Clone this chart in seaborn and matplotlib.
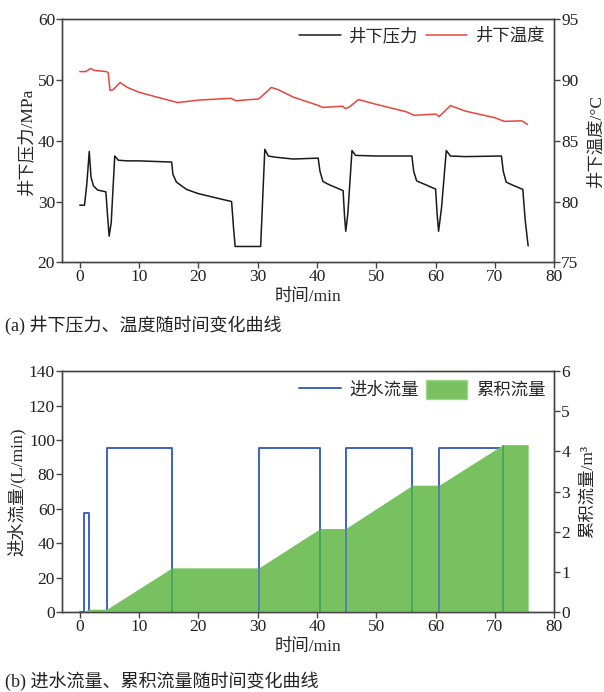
import matplotlib
matplotlib.use("Agg")
import matplotlib.pyplot as plt
import matplotlib.patches as mpatches
import seaborn as sns

# (a) downhole pressure, MPa
t_press = [0, 0.8, 1.2, 1.6, 1.9, 2.3, 3.0, 4.4, 4.7, 4.95, 5.3, 5.9, 6.5, 8, 10,
           15.5, 15.7, 16.3, 18, 20, 23, 25.6, 25.9, 26.2, 30.5, 31.2, 31.8, 33,
           36, 40.2, 40.5, 41.0, 42, 44.4, 44.65, 44.85, 45.2, 45.9, 46.5, 50,
           56.0, 56.3, 56.8, 58, 60.0, 60.25, 60.5, 61.0, 61.8, 62.5, 65, 71.1,
           71.4, 71.9, 73, 74.7, 75.1, 75.6]
pressure = [29.4, 29.4, 33.0, 38.25, 34.0, 32.6, 31.9, 31.6, 27.5, 24.3, 26.5,
            37.5, 36.8, 36.7, 36.7, 36.5, 34.5, 33.2, 32.0, 31.3, 30.6, 30.0,
            26.0, 22.6, 22.6, 38.6, 37.5, 37.3, 37.0, 37.15, 35.0, 33.3, 32.8,
            31.8, 27.5, 25.1, 28.0, 38.4, 37.6, 37.5, 37.5, 35.0, 33.4, 32.9,
            32.05, 28.0, 25.1, 29.0, 38.4, 37.5, 37.4, 37.5, 35.0, 33.2, 32.7,
            32.0, 27.0, 22.7]

# (a) downhole temperature, °C
t_temp = [0, 1.0, 1.8, 2.5, 4.5, 4.8, 5.1, 5.6, 6.8, 8, 10, 13, 16.5, 20, 25.5,
          26.3, 30.2, 32.3, 33.5, 36, 40.0, 41.0, 44.3, 44.8, 45.5, 47.0, 50, 55,
          56.4, 60, 60.6, 62.5, 65, 70, 71.6, 74.5, 75.5]
temperature = [90.7, 90.7, 90.95, 90.8, 90.7, 90.6, 89.15, 89.2, 89.8, 89.4,
               89.0, 88.6, 88.15, 88.35, 88.5, 88.3, 88.45, 89.4, 89.2, 88.6,
               87.95, 87.75, 87.85, 87.65, 87.8, 88.4, 88.0, 87.4, 87.1, 87.2,
               87.0, 87.9, 87.45, 86.9, 86.6, 86.65, 86.35]

# (b) inflow rate, L/min
t_flow = [0, 0.7, 0.7, 1.6, 1.6, 4.55, 4.55, 15.55, 15.55, 30.2, 30.2, 40.55,
          40.55, 44.85, 44.85, 56.1, 56.1, 60.6, 60.6, 71.4, 71.4, 75.6]
flow = [0, 0, 57.5, 57.5, 0, 0, 95.3, 95.3, 0, 0, 95.3, 95.3, 0, 0, 95.3, 95.3,
        0, 0, 95.3, 95.3, 0, 0]

# (b) cumulative volume, m3
t_cum = [0.3, 1.6, 4.55, 15.55, 30.2, 40.55, 44.85, 56.1, 60.6, 71.4, 75.6]
cum = [0, 0.07, 0.07, 1.10, 1.10, 2.08, 2.08, 3.16, 3.16, 4.17, 4.17]
pump_off = [3, 5, 7, 9]   # indexes in t_cum where pumping stops
pump_on = [4, 6, 8]

sns.set_theme(style="ticks")
plt.rcParams["font.family"] = ["Liberation Serif", "Noto Sans CJK SC"]
plt.rcParams["axes.unicode_minus"] = False
plt.rcParams["axes.edgecolor"] = "#444444"
plt.rcParams["xtick.color"] = "#444444"
plt.rcParams["ytick.color"] = "#444444"
plt.rcParams["xtick.labelcolor"] = "#222222"
plt.rcParams["ytick.labelcolor"] = "#222222"

FS = 12.5
fig = plt.figure(figsize=(6.04, 6.92), dpi=100)
ax1 = fig.add_axes([0.1026, 0.621, 0.815, 0.351])
ax3 = fig.add_axes([0.1026, 0.1156, 0.815, 0.348])


def style(ax):
    ax.tick_params(direction="out", length=4, width=1, labelsize=FS, pad=1)
    for sp in ax.spines.values():
        sp.set_linewidth(1)
        sp.set_visible(True)


# ---- (a)
sns.lineplot(x=t_press, y=pressure, ax=ax1, color="#1a1a1a", lw=1.1,
             estimator=None, sort=False, label="井下压力", legend=False)
ax2 = ax1.twinx()
sns.lineplot(x=t_temp, y=temperature, ax=ax2, color="#e8453c", lw=1.1,
             estimator=None, sort=False, label="井下温度", legend=False)
ax1.set_xlim(-3, 80)
ax1.set_ylim(20, 60)
ax1.set_yticks(range(20, 61, 10))
ax1.set_xticks(range(0, 81, 10))
ax2.set_ylim(75, 95)
ax2.set_yticks(range(75, 96, 5))
ax1.set_xlabel("时间/min", fontsize=FS, labelpad=3)
ax1.set_ylabel("井下压力/MPa", fontsize=FS, labelpad=2)
ax2.set_ylabel("井下温度/°C", fontsize=FS, labelpad=7)
for a in (ax1, ax2):
    style(a)
h1, l1 = ax1.get_legend_handles_labels()
h2, l2 = ax2.get_legend_handles_labels()
ax2.legend(h1 + h2, l1 + l2, loc="upper right", ncol=2, frameon=False,
           fontsize=FS, handlelength=2.4, handletextpad=0.5,
           columnspacing=0.4, borderaxespad=0.1)

# ---- (b)
sns.lineplot(x=t_flow, y=flow, ax=ax3, color="#4062bf", lw=1.4,
             estimator=None, sort=False, label="进水流量", legend=False)
ax4 = ax3.twinx()
ax4.fill_between(t_cum, 0, cum, color="#78c160", lw=0)
ax4.vlines([t_cum[i] for i in pump_off], 0, [cum[i] for i in pump_off],
           color="#3f9e58", lw=1.1)
ax4.vlines([t_cum[i] for i in pump_on], 0, [cum[i] for i in pump_on],
           color="#4a72b8", lw=1.1)
ax3.set_xlim(-3, 80)
ax3.set_ylim(0, 140)
ax3.set_yticks(range(0, 141, 20))
ax3.set_xticks(range(0, 81, 10))
ax4.set_ylim(0, 6)
ax4.set_yticks(range(0, 7))
ax3.set_xlabel("时间/min", fontsize=FS, labelpad=3)
ax3.set_ylabel("进水流量/(L/min)", fontsize=FS, labelpad=2)
ax4.set_ylabel("累积流量/m³", fontsize=FS, labelpad=7)
for a in (ax3, ax4):
    style(a)
h3, l3 = ax3.get_legend_handles_labels()
patch = mpatches.Patch(facecolor="#78c160", edgecolor="#9ed48a", label="累积流量")
ax4.legend(h3 + [patch], l3 + ["累积流量"], loc="upper right", ncol=2,
           frameon=False, fontsize=FS, handlelength=2.4, handleheight=1.3,
           handletextpad=0.5, columnspacing=0.4, borderaxespad=0.1)

fig.text(0.008, 0.530, "(a) 井下压力、温度随时间变化曲线", fontsize=FS + 0.5,
         va="center", ha="left", color="#222222")
fig.text(0.008, 0.016, "(b) 进水流量、累积流量随时间变化曲线", fontsize=FS + 0.5,
         va="center", ha="left", color="#222222")

fig.savefig("out.png", dpi=100)
